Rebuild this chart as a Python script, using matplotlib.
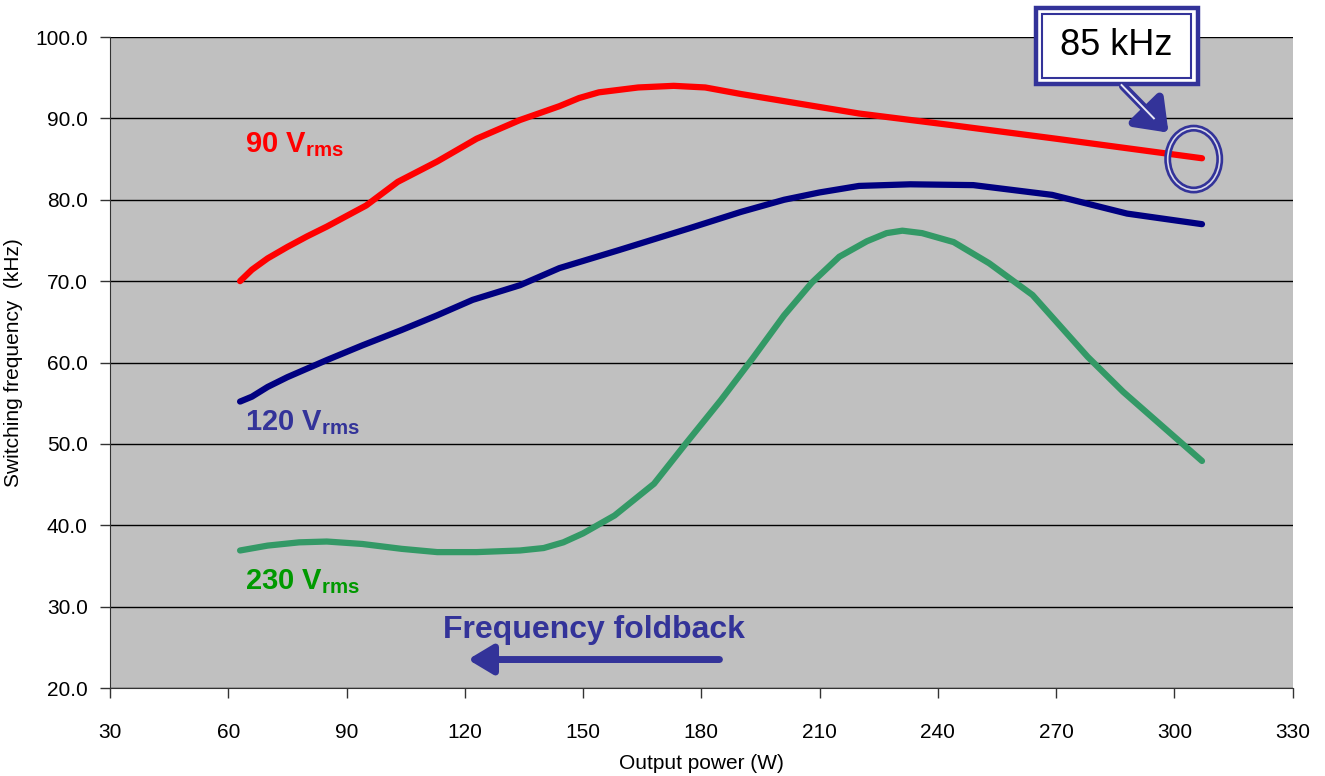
import numpy as np
import matplotlib
matplotlib.use("Agg")
import matplotlib.pyplot as plt
from matplotlib.patches import Rectangle, Ellipse, FancyArrowPatch

plt.rcParams['font.family'] = ['Liberation Sans', 'DejaVu Sans']
plt.rcParams['mathtext.fontset'] = 'custom'
plt.rcParams['mathtext.rm'] = 'Liberation Sans'
plt.rcParams['mathtext.bf'] = 'Liberation Sans:bold'

# data
x_90 = [63, 66, 70, 75, 80, 85, 90, 95, 103, 113, 123, 134, 144, 149, 154, 164, 173, 181, 190, 200, 210, 220, 243, 270, 307]
f_90 = [70.0, 71.4, 72.8, 74.2, 75.5, 76.7, 78.0, 79.3, 82.2, 84.7, 87.5, 89.8, 91.5, 92.5, 93.2, 93.8, 94.0, 93.8, 93.0, 92.2, 91.4, 90.6, 89.2, 87.5, 85.1]

x_120 = [63, 66, 70, 75, 85, 94, 104, 113, 122, 134, 144, 159, 177, 190, 201, 210, 220, 233, 249, 269, 288, 307]
f_120 = [55.2, 55.8, 57.0, 58.2, 60.3, 62.1, 64.0, 65.8, 67.7, 69.5, 71.6, 73.8, 76.5, 78.5, 80.0, 80.9, 81.7, 81.9, 81.8, 80.6, 78.3, 77.0]

x_230 = [63, 70, 78, 85, 94, 104, 113, 123, 134, 140, 145, 150, 158, 168, 176, 185, 193, 201, 208, 215, 222, 227, 231, 236, 244, 253, 264, 278, 287, 307]
f_230 = [36.9, 37.5, 37.9, 38.0, 37.7, 37.1, 36.7, 36.7, 36.9, 37.2, 37.9, 39.0, 41.2, 45.1, 50.0, 55.4, 60.5, 65.8, 69.8, 73.0, 74.9, 75.9, 76.2, 75.9, 74.8, 72.2, 68.3, 60.7, 56.4, 47.9]

x_ticks = list(range(30, 331, 30))
y_ticks = list(range(20, 101, 10))

blue = '#333399'

fig = plt.figure(figsize=(13.25, 7.76), dpi=100)
ax = fig.add_axes([0.083, 0.1134, 0.8926, 0.8389])
ax.set_facecolor('#C0C0C0')

for yv in y_ticks:
    ax.axhline(yv, color='black', lw=1.0, zorder=1)

ax.plot(x_90, f_90, color='#FF0000', lw=4.5, solid_capstyle='round', solid_joinstyle='round', zorder=3)
ax.plot(x_120, f_120, color='#000080', lw=4.5, solid_capstyle='round', solid_joinstyle='round', zorder=3)
ax.plot(x_230, f_230, color='#339966', lw=4.5, solid_capstyle='round', solid_joinstyle='round', zorder=3)

ax.set_xlim(30, 330)
ax.set_ylim(20, 100)
ax.set_xticks(x_ticks)
ax.set_yticks(y_ticks)
ax.set_yticklabels(['%.1f' % v for v in y_ticks])
ax.tick_params(direction='out', length=7, width=1, color='#333333', labelsize=15)
ax.tick_params(axis='x', pad=18)
ax.tick_params(axis='y', pad=9)
for s in ['top', 'right']:
    ax.spines[s].set_visible(False)
for s in ['left', 'bottom']:
    ax.spines[s].set_color('#333333')

ax.set_xlabel('Output power (W)', fontsize=15, labelpad=9)
ax.set_ylabel('Switching frequency  (kHz)', fontsize=15, labelpad=9)

# series labels
ax.text(64.3, 85.9, r'90 V$_\mathbf{rms}$', color='#FF0000', fontsize=21, fontweight='bold')
ax.text(64.3, 51.7, r'120 V$_\mathbf{rms}$', color=blue, fontsize=21, fontweight='bold')
ax.text(64.3, 32.2, r'230 V$_\mathbf{rms}$', color='#009900', fontsize=21, fontweight='bold')

# frequency foldback
ax.text(114.5, 26.1, 'Frequency foldback', color=blue, fontsize=23, fontweight='bold')
ax.add_patch(FancyArrowPatch((185.3, 23.5), (120.1, 23.5), arrowstyle='-|>,head_length=1.0,head_width=0.6',
                             mutation_scale=15, color=blue, lw=5, zorder=4))

# 85 kHz callout
ax.add_patch(Rectangle((264.8, 94.2), 41.1, 9.4, facecolor='white', edgecolor=blue, lw=3.2,
                       clip_on=False, zorder=5))
ax.add_patch(Rectangle((266.4, 95.0), 37.9, 7.8, facecolor='none', edgecolor=blue, lw=1.5,
                       clip_on=False, zorder=6))
ax.text(285.3, 98.9, '85 kHz', fontsize=26, ha='center', va='center', color='black', zorder=7,
        clip_on=False)

ax.add_patch(FancyArrowPatch((286.5, 94.2), (299.0, 88.0), arrowstyle='-|>,head_length=1.2,head_width=0.9',
                             mutation_scale=15, color=blue, lw=6, zorder=4))
ax.plot([286.6, 294.8], [94.1, 90.0], color='#E8E8F4', lw=1.4, zorder=5)

ax.add_patch(Ellipse((304.9, 85.0), 13.2, 7.6, facecolor='none', edgecolor=blue, lw=5, zorder=4))
ax.add_patch(Ellipse((304.9, 85.0), 13.2, 7.6, facecolor='none', edgecolor='#D8D8E8', lw=1.2, zorder=5))

fig.savefig('out.png', dpi=100)
